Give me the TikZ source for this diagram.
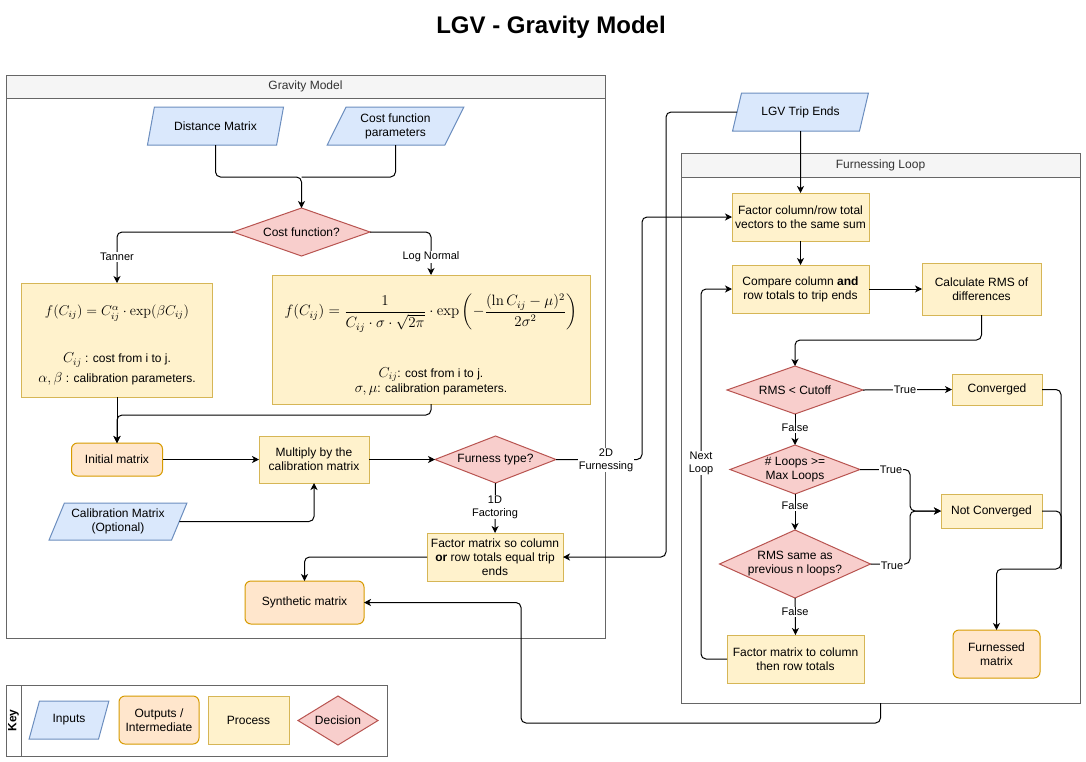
\documentclass[tikz,border=0pt]{standalone}
\usepackage[no-math]{fontspec}
\setmainfont{Liberation Sans}
\usepackage{amsmath}
\usepackage{graphicx}
\usetikzlibrary{shapes.geometric,arrows.meta}
\definecolor{inFill}{HTML}{DAE8FC}\definecolor{inLine}{HTML}{6C8EBF}
\definecolor{outFill}{HTML}{FFE6CC}\definecolor{outLine}{HTML}{D79B00}
\definecolor{prFill}{HTML}{FFF2CC}\definecolor{prLine}{HTML}{D6B656}
\definecolor{decFill}{HTML}{F8CECC}\definecolor{decLine}{HTML}{B85450}
\definecolor{cntLine}{HTML}{666666}\definecolor{cntHead}{HTML}{F5F5F5}\definecolor{cntText}{HTML}{333333}
\newcommand{\mC}{{\fontsize{14}{16}\selectfont$C_{ij}$}}
\begin{document}
\begin{tikzpicture}[x=1pt,y=-1pt,
  every node/.style={font=\fontsize{12}{14}\selectfont, inner sep=0pt, outer sep=0pt},
  inbox/.style={trapezium, trapezium left angle=62, trapezium right angle=118, trapezium stretches=true,
     draw=inLine, fill=inFill, line width=1pt, align=center},
  outbox/.style={rectangle, rounded corners=6pt, draw=outLine, fill=outFill, line width=1pt, align=center},
  proc/.style={rectangle, draw=prLine, fill=prFill, line width=1pt, align=center},
  dec/.style={diamond, aspect=2.5, draw=decLine, fill=decFill, line width=1pt, align=center},
  cont/.style={rectangle, draw=cntLine, line width=1pt},
  conthead/.style={rectangle, draw=cntLine, fill=cntHead, line width=1pt, text=cntText},
  edge/.style={draw=black, line width=1pt, rounded corners=5pt},
  arr/.style={edge, -{Stealth[length=7pt,width=7pt,inset=2pt]}},
  elab/.style={font=\fontsize{11}{13}\selectfont, fill=white, inner sep=1pt, align=center}
]
\fill[white] (0,0) rectangle (1086,761);
\useasboundingbox (0,0) rectangle (1086,761);

\node[font=\bfseries\fontsize{24}{28}\selectfont] (title) at (551,27.5) {LGV - Gravity Model};

% containers
\node[cont, minimum width=599, minimum height=563] (grav) at (305.5,356.5) {};
\node[conthead, minimum width=599, minimum height=23] (gravh) at (305.5,86.5) {Gravity Model};
\node[cont, minimum width=399, minimum height=550] (loop) at (880.5,428) {};
\node[conthead, minimum width=399, minimum height=24] (looph) at (880.5,165) {Furnessing Loop};
\node[cont, minimum width=381, minimum height=71] (key) at (196.5,720.5) {};
\node[cont, minimum width=15, minimum height=71] (keyband) at (13.5,720.5) {};
\node[rotate=90, font=\bfseries\fontsize{12}{14}\selectfont] (keyt) at (13.5,720.5) {Key};

% gravity model nodes
\node[inbox, minimum width=137, minimum height=38] (dist) at (215.5,126) {Distance Matrix};
\node[inbox, minimum width=137, minimum height=38] (cfp) at (395.5,126) {Cost function\\parameters};
\node[dec, minimum width=137, minimum height=48] (cf) at (301.5,232) {Cost function?};
\node[proc, minimum width=191, minimum height=114] (tan) at (117,340) {};
\node (tanf) at (117,313) {\scalebox{1.18}{$f(C_{ij}) = C_{ij}^{\alpha}\cdot\exp(\beta C_{ij})$}};
\node[align=center] (tanl) at (117,369) {\mC\ : cost from i to j.\\[4pt] {\fontsize{13.5}{15}\selectfont$\alpha,\beta$} : calibration parameters.};
\node[proc, minimum width=318, minimum height=129] (ln) at (431,339.5) {};
\node (lnf) at (431,313) {\scalebox{1.25}{$\displaystyle f(C_{ij}) = \frac{1}{C_{ij}\cdot\sigma\cdot\sqrt{2\pi}}\cdot\exp\left(-\frac{(\ln C_{ij}-\mu)^2}{2\sigma^2}\right)$}};
\node[align=center] (lnl) at (431,381) {\mC: cost from i to j.\\[1pt] {\fontsize{13.5}{15}\selectfont$\sigma,\mu$}: calibration parameters.};
\node[outbox, minimum width=91, minimum height=33] (init) at (117,459.5) {Initial matrix};
\node[proc, minimum width=110, minimum height=47] (mult) at (314,459.5) {Multiply by the\\calibration matrix};
\node[dec, aspect=2.6, minimum width=121, minimum height=47] (ft) at (495.5,459.5) {Furness type?};
\node[inbox, minimum width=138, minimum height=37] (calib) at (118,521.5) {Calibration Matrix\\(Optional)};
\node[proc, minimum width=136, minimum height=48] (fac1) at (495,557) {Factor matrix so column\\\textbf{or} row totals equal trip\\ends};
\node[outbox, minimum width=119, minimum height=43] (synth) at (304.5,602.5) {Synthetic matrix};

% furnessing nodes
\node[inbox, minimum width=137, minimum height=38] (lgv) at (800.5,112) {LGV Trip Ends};
\node[proc, minimum width=137, minimum height=48] (fc) at (800.5,217) {Factor column/row total\\vectors to the same sum};
\node[proc, minimum width=137, minimum height=48] (cmp) at (800.5,289) {Compare column \textbf{and}\\row totals to trip ends};
\node[proc, minimum width=119, minimum height=52] (rms) at (981.5,289) {Calculate RMS of\\differences};
\node[dec, minimum width=136, minimum height=48] (d1) at (795,390) {RMS {\textless} Cutoff};
\node[proc, minimum width=90, minimum height=31] (conv) at (997,389.5) {Converged};
\node[dec, aspect=2.65, minimum width=130, minimum height=49] (d2) at (795,469.5) {\# Loops {\textgreater}=\\Max Loops};
\node[proc, minimum width=101, minimum height=34] (nc) at (991.5,511) {Not Converged};
\node[dec, aspect=2.22, minimum width=151, minimum height=68] (d3) at (795,564) {RMS same as\\previous n loops?};
\node[proc, minimum width=137, minimum height=48] (fm) at (795.5,659) {Factor matrix to column\\then row totals};
\node[outbox, minimum width=87, minimum height=48] (fur) at (996.5,654) {Furnessed\\matrix};

% key
\node[inbox, minimum width=80, minimum height=38] (kin) at (69,720) {Inputs};
\node[outbox, minimum width=80, minimum height=48] (kout) at (159,720) {Outputs /\\Intermediate};
\node[proc, minimum width=81, minimum height=48] (kpr) at (248.5,720) {Process};
\node[dec, aspect=2, minimum width=80, minimum height=49] (kdec) at (338,720.5) {Decision};

% connectors
\coordinate (j1) at (301.5,177);
\draw[arr] (dist.south) |- (j1) -- (cf.north);
\draw[edge] (cfp.south) |- (j1);
\draw[arr] (cf.west) -| (tan.north);
\draw[arr] (cf.east) -| (ln.north);
\node[elab] (lt) at (117,257) {Tanner};
\node[elab] (lln) at (431,257) {Log Normal};
\draw[arr] (tan.south) -- (init.north);
\coordinate (j2) at (117,415);
\draw[arr] (ln.south) |- (j2) -- (init.north);
\draw[arr] (init.east) -- (mult.west);
\draw[arr] (mult.east) -- (ft.west);
\draw[arr] (calib.east) -| (mult.south);
\draw[arr] (ft.south) -- (fac1.north);
\node[elab] (l1d) at (495,507) {1D\\Factoring};
\coordinate (j3) at (642,459.5);
\draw[arr] (ft.east) -- (j3) |- (fc.west);
\node[elab] (l2d) at (606,460) {2D\\Furnessing};
\coordinate (j4) at (666,112);
\draw[arr] (lgv.west) -- (j4) |- (fac1.east);
\draw[arr] (fac1.west) -| (synth.north);
\draw[arr] (lgv.south) -- (fc.north);
\draw[arr] (fc.south) -- (cmp.north);
\draw[arr] (cmp.east) -- (rms.west);
\coordinate (j5) at (981.5,340);
\draw[arr] (rms.south) -- (j5) -| (d1.north);
\draw[arr] (d1.east) -- (conv.west);
\node[elab] (lt1) at (905,390) {True};
\draw[arr] (d1.south) -- (d2.north);
\node[elab] (lf1) at (795,428) {False};
\coordinate (j6) at (910,511);
\draw[arr] (d2.east) -| (j6) -- (nc.west);
\node[elab] (lt2) at (891,470) {True};
\draw[arr] (d3.east) -| (j6) -- (nc.west);
\node[elab] (lt3) at (892,566) {True};
\draw[arr] (d2.south) -- (d3.north);
\node[elab] (lf2) at (795,506) {False};
\draw[arr] (d3.south) -- (fm.north);
\node[elab] (lf3) at (795,612) {False};
\coordinate (j7) at (701,659);
\draw[arr] (fm.west) -- (j7) |- (cmp.west);
\node[elab] (lnl2) at (701,463) {Next\\Loop};
\coordinate (j8) at (1061,569);
\draw[arr] (conv.east) -| (j8) -| (fur.north);
\draw[edge] (nc.east) -| (j8);
\coordinate (j9) at (521,723);
\draw[arr] (loop.south) |- (j9) |- (synth.east);
\end{tikzpicture}
\end{document}
